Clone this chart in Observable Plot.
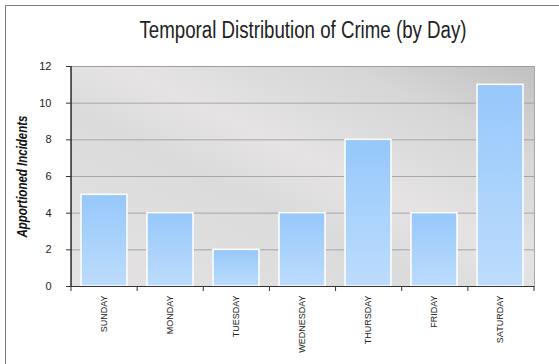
<!DOCTYPE html>
<html>
<head>
<meta charset="utf-8">
<script src="https://cdn.jsdelivr.net/npm/d3@7"></script>
<script src="https://cdn.jsdelivr.net/npm/@observablehq/plot@0.6"></script>
<style>
  html, body { margin: 0; padding: 0; background: white; }
  #chart { position: relative; width: 559px; height: 364px; }
</style>
</head>
<body>
<div id="chart"></div>
<script>
const title = "Temporal Distribution of Crime (by Day)";
const yLabel = "Apportioned Incidents";
const days = ["SUNDAY", "MONDAY", "TUESDAY", "WEDNESDAY", "THURSDAY", "FRIDAY", "SATURDAY"];
const incidents = [5, 4, 2, 4, 8, 4, 11];
const yTicks = [0, 2, 4, 6, 8, 10, 12];

const data = days.map((d, i) => ({day: d, value: incidents[i]}));

const defs = () => {
  const g = d3.create("svg:defs");
  const bg = g.append("linearGradient").attr("id", "bgGrad")
    .attr("x1", 0).attr("y1", 1).attr("x2", 1).attr("y2", 0);
  [[0, "#e4e2e2"], [0.4, "#dcdbdb"], [0.55, "#e5e3e3"], [0.8, "#d6d6d6"], [1, "#c0c0c0"]]
    .forEach(([o, c]) => bg.append("stop").attr("offset", o).attr("stop-color", c));
  const bar = g.append("linearGradient").attr("id", "barGrad")
    .attr("x1", 0).attr("y1", 0).attr("x2", 0).attr("y2", 1);
  [[0, "#96c8fb"], [1, "#bddcfc"]]
    .forEach(([o, c]) => bar.append("stop").attr("offset", o).attr("stop-color", c));
  return g.node();
};

const plot = Plot.plot({
  width: 559,
  height: 364,
  marginLeft: 71,
  marginRight: 25,
  marginTop: 66,
  marginBottom: 78,
  style: {background: "white", fontFamily: "'Liberation Sans', Arial, sans-serif", color: "#222"},
  x: {domain: days, paddingInner: 0.3, paddingOuter: 0.15, label: null},
  y: {domain: [0, 12], label: null},
  marks: [
    defs,
    Plot.frame({fill: "url(#bgGrad)", stroke: "#a8a8a8"}),
    Plot.gridY(yTicks, {stroke: "#9a9a9a", strokeOpacity: 0.8}),
    Plot.barY(data, {x: "day", y: "value", fill: "url(#barGrad)", stroke: "white", strokeWidth: 1.5}),
    Plot.ruleY([0], {stroke: "#333"}),
    Plot.axisY(yTicks, {tickSize: 5, tickPadding: 15, fontSize: 11, label: null, stroke: "#333"}),
    Plot.axisX({tickSize: 0, tickRotate: -90, tickPadding: 9, fontSize: 9, label: null}),
    Plot.text([title], {frameAnchor: "top", dy: -45, fontSize: 23, fill: "#222", className: "title-txt"}),
    Plot.text([yLabel], {frameAnchor: "left", textAnchor: "middle", dx: -49, rotate: -90, fontSize: 14, fontWeight: "bold", fontStyle: "italic", fill: "#111", className: "ylab-txt"})
  ]
});

const svg = d3.select(plot);
// condense title and axis label to the reference's narrow face
svg.selectAll(".title-txt text").attr("textLength", 327).attr("lengthAdjust", "spacingAndGlyphs");
svg.selectAll(".ylab-txt text").attr("textLength", 122).attr("lengthAdjust", "spacingAndGlyphs");

// band-boundary ticks and left axis line, positioned from the library's scales
const xs = plot.scale("x");
const ys = plot.scale("y");
const [r0, r1] = xs.range;
const y0 = ys.apply(0), yTop = ys.apply(12);
const n = days.length;
const g = svg.append("g").attr("stroke", "#333");
for (let i = 0; i <= n; i++) {
  const x = r0 + i * (r1 - r0) / n;
  g.append("line").attr("x1", x).attr("x2", x).attr("y1", y0).attr("y2", y0 + 5);
}
g.append("line").attr("x1", r0).attr("x2", r0).attr("y1", yTop).attr("y2", y0).attr("stroke-width", 1.5);
// outer image border (top and left)
svg.append("path").attr("d", "M5.5,364V5.5H559").attr("fill", "none").attr("stroke", "#7a7a7a");

document.getElementById("chart").append(plot);
</script>
</body>
</html>
